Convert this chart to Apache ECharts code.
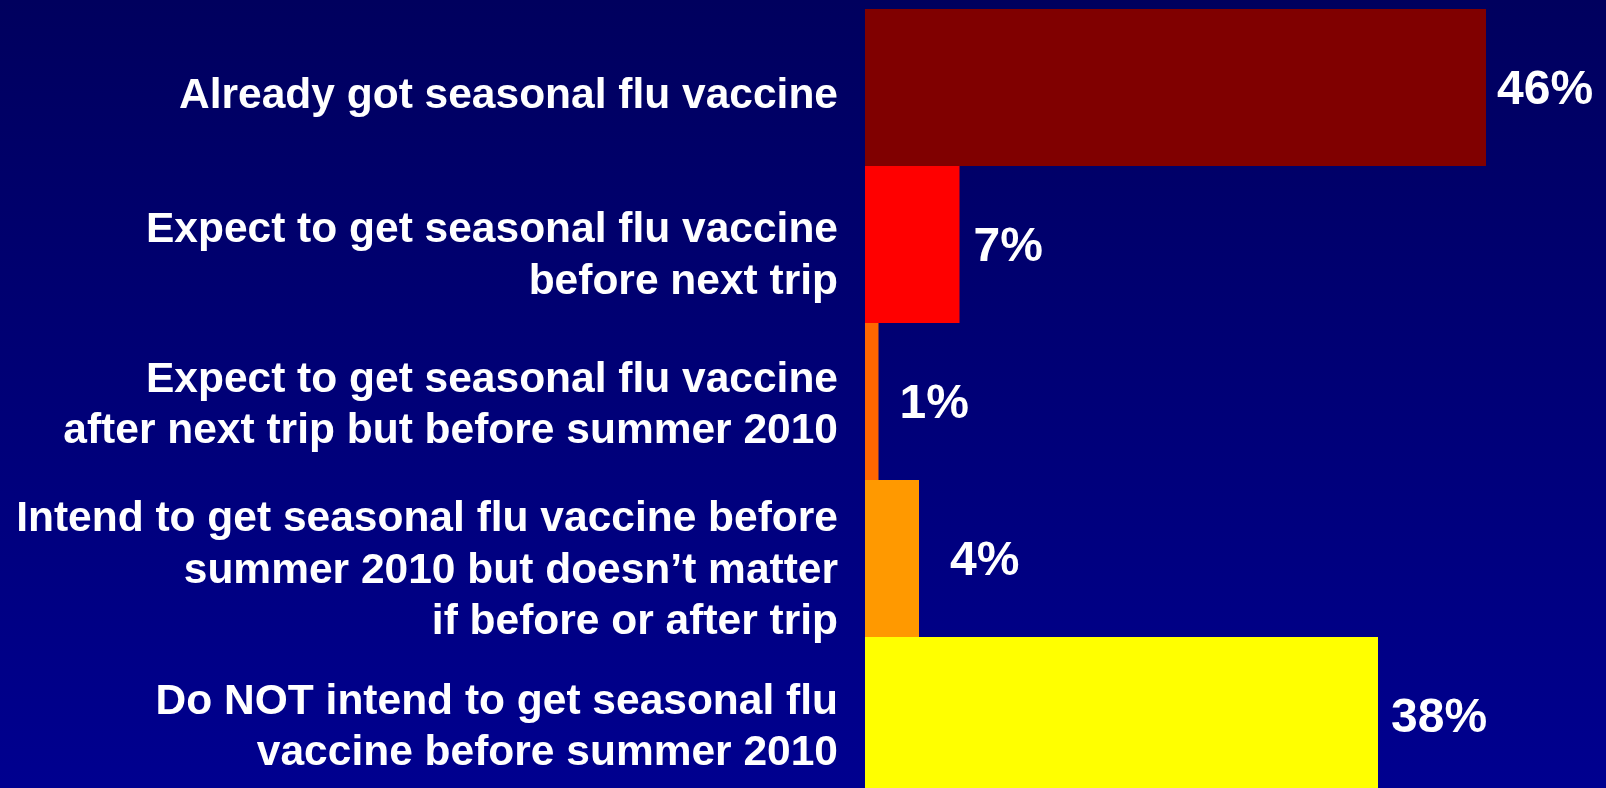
<!DOCTYPE html>
<html>
<head>
<meta charset="utf-8">
<script src="https://cdn.jsdelivr.net/npm/echarts@6/dist/echarts.min.js"></script>
<style>
  html, body { margin: 0; padding: 0; overflow: hidden; }
  /* a bit taller than the window so the last bar runs off the bottom edge */
  #chart { width: 1606px; height: 800px; }
</style>
</head>
<body>
<div id="chart"></div>
<script>
const categories = [
  'Already got seasonal flu vaccine',
  'Expect to get seasonal flu vaccine\nbefore next trip',
  'Expect to get seasonal flu vaccine\nafter next trip but before summer 2010',
  'Intend to get seasonal flu vaccine before\nsummer 2010 but doesn\u2019t matter\nif before or after trip',
  'Do NOT intend to get seasonal flu\nvaccine before summer 2010'
]
const values = [46, 7, 1, 4, 38]
const barColors = ['#800000', '#ff0000', '#ff6600', '#ff9900', '#ffff00']
const labelGaps = [11, 14, 21, 31, 13]
// how far each category text sits below its bar's middle
const textShift = [8.5, 12, 4.5, 12.5, 12.5]

const labelFont = {
  color: '#ffffff',
  fontFamily: 'Liberation Sans, Arial, sans-serif',
  fontWeight: 'bold'
}

const rich = { t: { ...labelFont, fontSize: 42.5, lineHeight: 51.5 } }
textShift.forEach((s, i) => {
  rich['g' + i] = { fontSize: 1, lineHeight: s * 2 }
})

const chart = echarts.init(document.getElementById('chart'))

chart.setOption({
  backgroundColor: {
    type: 'linear', x: 0, y: 0, x2: 0, y2: 1,
    colorStops: [
      { offset: 0, color: '#00005e' },
      { offset: 1, color: '#000090' }
    ]
  },
  animation: false,
  grid: { left: 865, top: 9, width: 675, height: 785 },
  xAxis: {
    type: 'value',
    min: 0,
    max: 50,
    show: false
  },
  yAxis: {
    type: 'category',
    inverse: true,
    data: categories,
    axisLine: { show: false },
    axisTick: { show: false },
    axisLabel: {
      margin: 27,
      align: 'right',
      formatter: (v, i) => `{g${i}| }\n` + v.split('\n').map(l => `{t|${l}}`).join('\n'),
      rich
    }
  },
  series: [{
    type: 'bar',
    barCategoryGap: 0,
    data: values.map((v, i) => ({
      value: v,
      itemStyle: { color: barColors[i] },
      label: { distance: labelGaps[i] }
    })),
    label: {
      show: true,
      position: 'right',
      formatter: '{c}%',
      offset: [0, 3],
      ...labelFont,
      fontSize: 48
    }
  }]
})
</script>
</body>
</html>
